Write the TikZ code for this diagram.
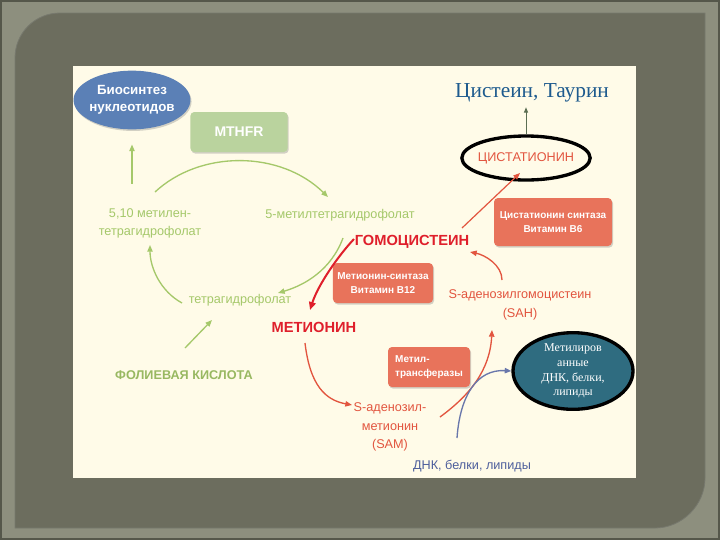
\documentclass[tikz,border=0pt]{standalone}
\usepackage{fontspec}
\setmainfont{Liberation Sans}
\newfontfamily\timesfont{Liberation Serif}
\usetikzlibrary{arrows.meta,shapes.geometric,shadows,calc}

\definecolor{framegray}{HTML}{8D8F7E}
\definecolor{panelgray}{HTML}{6C6D5E}
\definecolor{edgegray}{HTML}{55574A}
\definecolor{cream}{HTML}{FFFBE8}
\definecolor{nucblue}{HTML}{5B80B6}
\definecolor{mthfrgreen}{HTML}{BAD39E}
\definecolor{folgreen}{HTML}{A5C86A}
\definecolor{homored}{HTML}{DF1F2B}
\definecolor{samred}{HTML}{E2553F}
\definecolor{boxred}{HTML}{E8735B}
\definecolor{dnablue}{HTML}{4E5F9C}
\definecolor{cysblue}{HTML}{1E5B8E}
\definecolor{tealfill}{HTML}{2F6C80}
\definecolor{stemgreen}{HTML}{5B6E52}

\tikzset{every picture/.style={line width=0.75pt}}
\tikzset{
  foltext/.style={text=folgreen, font=\fontsize{9.5}{13.5}\selectfont, align=center, inner sep=1pt},
  redtext/.style={text=samred, font=\fontsize{9.5}{14}\selectfont, align=center, inner sep=1pt},
  bigred/.style={text=homored, font=\bfseries\fontsize{11}{13}\selectfont, inner sep=1pt},
  softshadow/.style={drop shadow={shadow xshift=0.8pt, shadow yshift=-1.2pt, opacity=0.35}},
  enzbox/.style={fill=boxred, rounded corners=3pt, text=white, align=center,
    font=\bfseries\fontsize{7.5}{10.5}\selectfont, softshadow},
  folarrow/.style={draw=folgreen, line width=1pt, -{Triangle[length=5pt,width=4pt]}},
  redarrow/.style={draw=samred, line width=1pt, -{Triangle[length=5pt,width=4pt]}},
  homoarrow/.style={draw=homored, line width=1.5pt, -{Triangle[length=6pt,width=5pt]}},
  dnaarrow/.style={draw=dnablue!85, line width=1pt, -{Triangle[length=5pt,width=4pt]}},
}

\begin{document}
\begin{tikzpicture}[x=0.75pt,y=0.75pt,yscale=-1,xscale=1]
  \useasboundingbox (0,0) rectangle (720,540);

  %Frame
  \fill[framegray] (0,0) rectangle (720,540);
  \draw[edgegray, line width=1.5pt] (1,1) rectangle (719,539);
  \fill[panelgray] (15,528) -- (15,58) .. controls (15,33) and (35,13) .. (60,13) -- (705,13) -- (705,478) .. controls (705,505) and (682,528) .. (655,528) -- cycle;
  \draw[edgegray!80, line width=0.6pt] (15,528) -- (15,58) .. controls (15,33) and (35,13) .. (60,13) -- (705,13) -- (705,478) .. controls (705,505) and (682,528) .. (655,528) -- cycle;
  \fill[cream] (73,66) rectangle (636,478);

  %Folate cycle
  \node[ellipse, fill=nucblue, minimum width=83pt, minimum height=44pt, inner sep=-1pt, text=white, font=\bfseries\fontsize{10}{13}\selectfont, align=center, softshadow] (biosynth) at (132,100) {Биосинтез\\нуклеотидов};
  \node[fill=mthfrgreen, rounded corners=3pt, minimum width=73pt, minimum height=30pt, text=white, font=\bfseries\fontsize{10.5}{12}\selectfont, softshadow] (mthfr) at (239,132) {MTHFR};
  \node[foltext] (metilen) at (150,223) {5,10 метилен-\\тетрагидрофолат};
  \node[foltext] (metilthf) at (340,215) {5-метилтетрагидрофолат};
  \node[foltext] (thf) at (240,300) {тетрагидрофолат};
  \node[text=folgreen!92!black, font=\bfseries\fontsize{9.5}{12}\selectfont] (folic) at (184,375) {ФОЛИЕВАЯ КИСЛОТА};

  %Methionine cycle
  \node[bigred] (homocys) at (412,242) {ГОМОЦИСТЕИН};
  \node[bigred] (methionine) at (314,327) {МЕТИОНИН};
  \node[enzbox, minimum width=88.5pt, minimum height=36pt] (cbs) at (553,222) {Цистатионин синтаза\\Витамин B6};
  \node[enzbox, minimum width=73pt, minimum height=30pt] (msyn) at (383,283) {Метионин-синтаза\\Витамин B12};
  \node[enzbox, minimum width=61.5pt, minimum height=30pt, align=left] (mtrans) at (429,367) {Метил-\\трансферазы};
  \node[ellipse, draw=black, line width=2.5pt, minimum width=91.5pt, minimum height=33pt, inner sep=-2pt, text=samred, font=\fontsize{9.5}{11}\selectfont] (cysta) at (526,158) {ЦИСТАТИОНИН};
  \node[text=cysblue, font=\timesfont\fontsize{16}{18}\selectfont] (cystaur) at (532,93) {Цистеин, Таурин};
  \node[redtext] (sam) at (390,427) {S-аденозил-\\метионин\\(SAM)};
  \node[redtext] (sah) at (520,305) {S-аденозилгомоцистеин\\(SAH)};
  \node[ellipse, fill=tealfill, draw=black, line width=2.5pt, minimum width=90pt, minimum height=56pt, text=white, font=\timesfont\fontsize{9}{11}\selectfont, align=center, inner sep=0pt] (methylated) at (573,371) {Метилиров\\анные\\ДНК, белки,\\липиды};
  \node[text=dnablue, font=\fontsize{9.5}{12}\selectfont] (dna) at (472,466) {ДНК, белки, липиды};

  %Straight Lines
  \draw[folarrow, shorten <=17pt, shorten >=11pt] (biosynth.south |- metilen.north) -- (biosynth.south);
  %Curve Lines
  \draw[folarrow] ($(metilen)+(5,-31)$) .. controls +(45,-42) and +(-48,-47) .. ($(metilthf)+(-12,-18)$);
  %Curve Lines
  \draw[folarrow] ($(thf)+(-58,3)$) .. controls +(-22,-12) and +(0,22) .. ($(metilen)+(0,22)$);
  %Straight Lines
  \draw[folarrow] ($(folic)+(1,-27)$) -- ($(thf)+(-28,20)$);
  %Curve Lines
  \draw[folarrow] ($(homocys)+(-69,-4)$) .. controls +(-12,32) and +(27,-8) .. ($(thf)+(38,-7)$);
  %Curve Lines
  \draw[homoarrow] ($(homocys)+(-58,-3)$) .. controls +(-16,17) and +(8,-25) .. ($(methionine)+(-4,-17)$);
  %Straight Lines
  \draw[redarrow, line width=0.9pt] ($(homocys)+(50,-14)$) -- ($(cysta)+(-6,15)$);
  %Straight Lines
  \draw[draw=stemgreen, -{Triangle[length=4pt,width=3pt]}] (cysta.north) -- (cysta.north |- cystaur.south);
  %Curve Lines
  \draw[redarrow] ($(methionine)+(-9,16)$) .. controls +(5,42) and +(-27,-5) .. ($(sam)+(-38,-22)$);
  %Curve Lines
  \draw[redarrow] ($(sam)+(50,-10)$) .. controls +(30,-22) and +(-2,40) .. ($(sah)+(-28,25)$);
  %Curve Lines
  \draw[redarrow] ($(sah)+(-18,-25)$) .. controls +(0,-15) and +(15,3) .. ($(homocys)+(58,10)$);
  %Curve Lines
  \draw[dnaarrow] ($(dna)+(-15,-28)$) .. controls +(3,-43) and +(-34,-2) .. (methylated.west);
\end{tikzpicture}
\end{document}
